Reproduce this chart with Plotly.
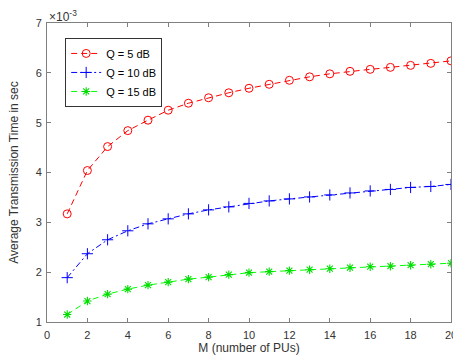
import plotly.graph_objects as go

M = list(range(1, 21))
q5 = [3.17, 4.04, 4.52, 4.84, 5.05, 5.25, 5.39, 5.50, 5.60, 5.69, 5.77, 5.85, 5.92, 5.98, 6.03, 6.07, 6.11, 6.15, 6.19, 6.24]
q10 = [1.89, 2.37, 2.65, 2.83, 2.97, 3.07, 3.17, 3.25, 3.31, 3.38, 3.43, 3.47, 3.51, 3.55, 3.59, 3.63, 3.66, 3.70, 3.72, 3.76]
q15 = [1.15, 1.42, 1.56, 1.66, 1.74, 1.80, 1.86, 1.90, 1.95, 1.99, 2.01, 2.03, 2.05, 2.07, 2.09, 2.11, 2.12, 2.14, 2.16, 2.18]
names = ["Q = 5 dB", "Q = 10 dB", "Q = 15 dB"]
x_ticks = list(range(0, 21, 2))
y_ticks = list(range(1, 8))

font = "Liberation Sans, Arial, sans-serif"
fig = go.Figure()
fig.add_trace(go.Scatter(x=M, y=q5, name=names[0], mode="lines+markers",
                         line=dict(color="#ff0000", width=1, dash="6px,4px"),
                         marker=dict(symbol="circle-open", size=8, color="#ff0000", line=dict(width=1))))
fig.add_trace(go.Scatter(x=M, y=q10, name=names[1], mode="lines+markers",
                         line=dict(color="#0000ff", width=1, dash="6px,3px,2px,3px"),
                         marker=dict(symbol="cross-thin-open", size=8, color="#0000ff", line=dict(width=1, color="#0000ff"))))
fig.add_trace(go.Scatter(x=M, y=q15, name=names[2], mode="lines+markers",
                         line=dict(color="#00ff00", width=1, dash="6px,4px"),
                         marker=dict(symbol="asterisk-open", size=7, color="#00dd00", line=dict(width=1.1, color="#00dd00"))))

axis_common = dict(showline=True, linecolor="#808080", linewidth=1, mirror="ticks",
                   ticks="inside", ticklen=4, tickcolor="#808080", showgrid=False, zeroline=False,
                   ticklabeloverflow="allow",
                   tickfont=dict(family=font, size=11, color="#333333"))
fig.update_xaxes(range=[0, 20], tickvals=x_ticks, ticklabelstandoff=3,
                 title=dict(text="M (number of PUs)", standoff=3,
                            font=dict(family=font, size=12, color="#333333")), **axis_common)
fig.update_yaxes(range=[1, 7], tickvals=y_ticks, ticklabelstandoff=2,
                 title=dict(text="Average Transmission Time in sec", standoff=14,
                            font=dict(family=font, size=12, color="#333333")), **axis_common)

fig.add_annotation(xref="paper", yref="paper", x=0.0, y=1.0, xanchor="left", yanchor="bottom",
                   text="\u00d710<sup>-3</sup>", showarrow=False, yshift=-3,
                   font=dict(family=font, size=12, color="#333333"))

fig.update_layout(width=453, height=358, margin=dict(l=47, r=2, t=23, b=36, autoexpand=False),
                  paper_bgcolor="white", plot_bgcolor="white",
                  legend=dict(x=0.045, y=0.95, xanchor="left", yanchor="top",
                              bordercolor="#333333", borderwidth=1, bgcolor="white",
                              font=dict(family=font, size=11, color="#000000"),
                              tracegroupgap=0),
                  showlegend=True)
fig.write_html("out.html", config={"displayModeBar": False},
               post_script="document.body.style.margin='0';document.body.style.overflow='hidden';")
